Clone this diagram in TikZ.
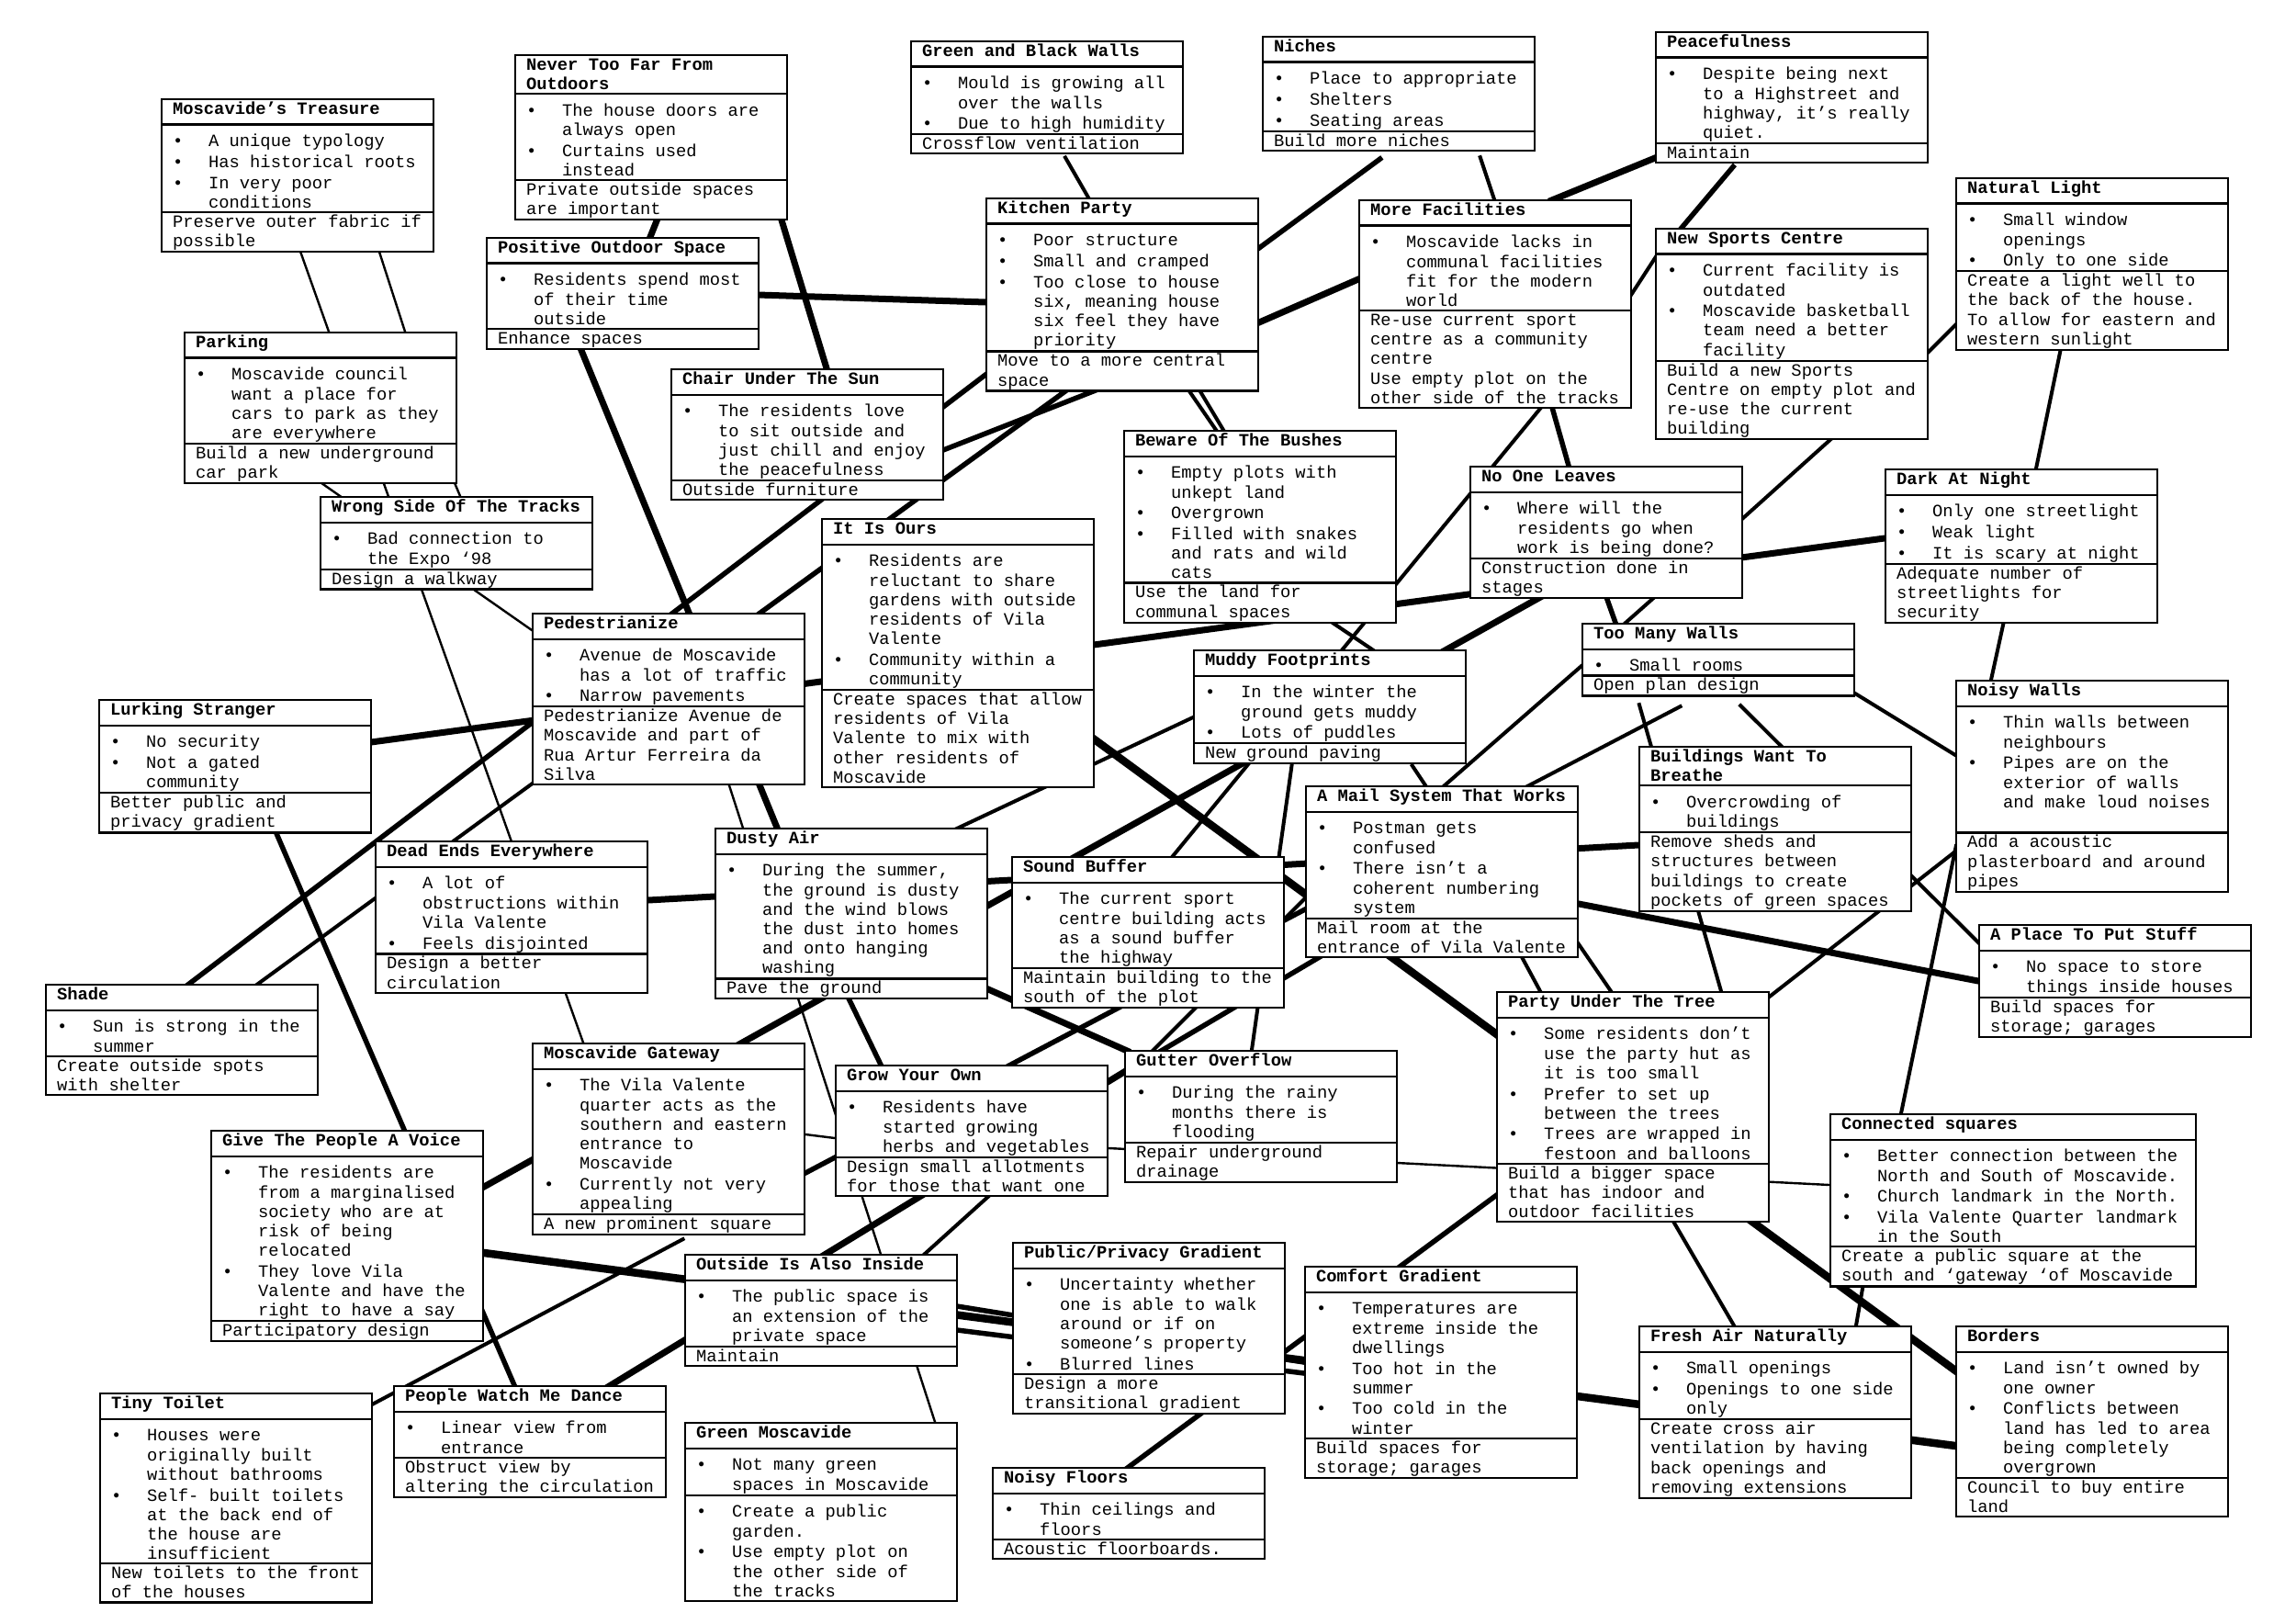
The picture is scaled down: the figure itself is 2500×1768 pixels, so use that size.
\documentclass[tikz,border=0pt]{standalone}
\usepackage{fontspec}
\setmainfont{Liberation Mono}
\usetikzlibrary{shapes.multipart, backgrounds}

\hyphenpenalty=10000
\exhyphenpenalty=10000

% conteudo das caixas (espacos fixos de letra monoespacada, margem direita livre)
\newcommand{\espacos}{\spaceskip=0.6em\relax\xspaceskip=0.6em\relax\rightskip=0pt plus 1fil\relax}
\newcommand{\apoio}{\rule[-3pt]{0pt}{17.8pt}}
\newcommand{\titulo}[2][9.5pt]{\espacos\textbf{\apoio #2}\rule[-#1]{0pt}{1pt}}
\newcommand{\topico}[1]{\par\espacos\setlength{\parskip}{1.5pt}\noindent\hangindent=39pt\hangafter=1\makebox[39pt][l]{\textbullet}\apoio#1\apoio\par}
\newcommand{\solucao}[1]{\espacos\apoio#1\apoio}

\begin{document}
\begin{tikzpicture}[x=1pt, y=-1pt,
    caixa/.style={
        rectangle split, rectangle split parts=3, draw, line width=2.2pt,
        fill=white, anchor=north west, text width=272pt,
        inner xsep=12pt, inner ysep=0.5pt, align=left,
        font={\fontsize{18.8}{21.2}\selectfont}
    },
    linha/.style={line width=#1, shorten <=-6pt, shorten >=-6pt},
    fina/.style={linha=2.4pt},
    media/.style={linha=4pt},
    grossa/.style={linha=5.5pt},
    forte/.style={linha=7pt},
    extra/.style={linha=8.5pt}
]
    \useasboundingbox (0,0) rectangle (2500,1768);

    % --- Fila de cima ---
    \node[caixa] (treasure) at (175,107) {\titulo{Moscavide’s Treasure}
        \nodepart{two}\topico{A unique typology}\topico{Has historical roots}\topico{In very poor conditions}
        \nodepart{three}\solucao{Preserve outer fabric if possible}};
    \node[caixa] (never_far) at (560,59) {\titulo[3pt]{Never Too Far From Outdoors}
        \nodepart{two}\topico{The house doors are always open}\topico{Curtains used instead}
        \nodepart{three}\solucao{Private outside spaces are important}};
    \node[caixa] (green_walls) at (991,44) {\titulo{Green and Black Walls}
        \nodepart{two}\topico{Mould is growing all over the walls}\topico{Due to high humidity}
        \nodepart{three}\solucao{Crossflow ventilation}};
    \node[caixa] (niches) at (1374,39) {\titulo{Niches}
        \nodepart{two}\topico{Place to appropriate}\topico{Shelters}\topico{Seating areas}
        \nodepart{three}\solucao{Build more niches}};
    \node[caixa] (peace) at (1802,34) {\titulo{Peacefulness}
        \nodepart{two}\topico{Despite being next to a Highstreet and highway, it’s really quiet.}
        \nodepart{three}\solucao{Maintain}};
    \node[caixa] (nat_light) at (2129,193) {\titulo{Natural Light}
        \nodepart{two}\topico{Small window openings}\topico{Only to one side}
        \nodepart{three}\solucao{Create a light well to the back of the house. To allow for eastern and western sunlight}};

    % --- Segunda fila ---
    \node[caixa] (outdoor) at (529,258) {\titulo{Positive Outdoor Space}
        \nodepart{two}\topico{Residents spend most of their time outside}
        \nodepart{three}\solucao{Enhance spaces}};
    \node[caixa] (kitchen) at (1073,215) {\titulo{Kitchen Party}
        \nodepart{two}\topico{Poor structure}\topico{Small and cramped}\topico{Too close to house six, meaning house six feel they have priority}
        \nodepart{three}\solucao{Move to a more central space}};
    \node[caixa] (facilities) at (1479,217) {\titulo{More Facilities}
        \nodepart{two}\topico{Moscavide lacks in communal facilities fit for the modern world}
        \nodepart{three}\solucao{Re-use current sport centre as a community centre}\par\solucao{Use empty plot on the other side of the tracks}};
    \node[caixa] (sports) at (1802,248) {\titulo{New Sports Centre}
        \nodepart{two}\topico{Current facility is outdated}\topico{Moscavide basketball team need a better facility}
        \nodepart{three}\solucao{Build a new Sports\newline Centre on empty plot and\newline re-use the current\newline building}};
    \node[caixa] (parking) at (200,361) {\titulo{Parking}
        \nodepart{two}\topico{Moscavide council want a place for cars to park as they are everywhere}
        \nodepart{three}\solucao{Build a new underground car park}};
    \node[caixa] (chair) at (730,401) {\titulo{Chair Under The Sun}
        \nodepart{two}\topico{The residents love to sit outside and just chill and enjoy the peacefulness}
        \nodepart{three}\solucao{Outside furniture}};
    \node[caixa] (bushes) at (1223,468) {\titulo{Beware Of The Bushes}
        \nodepart{two}\topico{Empty plots with unkept land}\topico{Overgrown}\topico{Filled with snakes and rats and wild cats}
        \nodepart{three}\solucao{Use the land for communal spaces}};
    \node[caixa] (no_leave) at (1600,507) {\titulo{No One Leaves}
        \nodepart{two}\topico{Where will the residents go when work is being done?}
        \nodepart{three}\solucao{Construction done in stages}};
    \node[caixa] (dark) at (2052,510) {\titulo{Dark At Night}
        \nodepart{two}\topico{Only one streetlight}\topico{Weak light}\topico{It is scary at night}
        \nodepart{three}\solucao{Adequate number of streetlights for security}};

    % --- Meio ---
    \node[caixa] (tracks) at (348,540) {\titulo{Wrong Side Of The Tracks}
        \nodepart{two}\topico{Bad connection to the Expo ‘98}
        \nodepart{three}\solucao{Design a walkway}};
    \node[caixa] (ours) at (894,564) {\titulo{It Is Ours}
        \nodepart{two}\topico{Residents are reluctant to share gardens with outside residents of Vila Valente}\topico{Community within a community}
        \nodepart{three}\solucao{Create spaces that allow\newline residents of Vila\newline Valente to mix with\newline other residents of\newline Moscavide}};
    \node[caixa] (pedes) at (579,667) {\titulo{Pedestrianize}
        \nodepart{two}\topico{Avenue de Moscavide has a lot of traffic}\topico{Narrow pavements}
        \nodepart{three}\solucao{Pedestrianize Avenue de Moscavide and part of Rua Artur Ferreira da Silva}};
    \node[caixa] (muddy) at (1299,707) {\titulo{Muddy Footprints}
        \nodepart{two}\topico{In the winter the ground gets muddy}\topico{Lots of puddles}
        \nodepart{three}\solucao{New ground paving}};
    \node[caixa] (many_walls) at (1722,678) {\titulo{Too Many Walls}
        \nodepart{two}\topico{Small rooms}
        \nodepart{three}\solucao{Open plan design}};
    \node[caixa] (noisy_walls) at (2129,740) {\titulo{Noisy Walls}
        \nodepart{two}\topico{Thin walls between neighbours}\topico{Pipes are on the exterior of walls and make loud noises}\apoio
        \nodepart{three}\solucao{Add a acoustic plasterboard and around pipes}};
    \node[caixa] (lurking) at (107,761) {\titulo{Lurking Stranger}
        \nodepart{two}\topico{No security}\topico{Not a gated community}
        \nodepart{three}\solucao{Better public and privacy gradient}};
    \node[caixa] (breathe) at (1784,812) {\titulo[3pt]{Buildings Want To Breathe}
        \nodepart{two}\topico{Overcrowding of buildings}
        \nodepart{three}\solucao{Remove sheds and structures between buildings to create pockets of green spaces}};
    \node[caixa] (mail) at (1421,855) {\titulo{A Mail System That Works}
        \nodepart{two}\topico{Postman gets confused}\topico{There isn’t a coherent numbering system}
        \nodepart{three}\solucao{Mail room at the entrance of Vila Valente}};
    \node[caixa] (dusty) at (778,901) {\titulo{Dusty Air}
        \nodepart{two}\topico{During the summer, the ground is dusty and the wind blows the dust into homes and onto hanging washing}
        \nodepart{three}\solucao{Pave the ground}};
    \node[caixa] (dead_ends) at (408,915) {\titulo{Dead Ends Everywhere}
        \nodepart{two}\topico{A lot of obstructions within Vila Valente}\topico{Feels disjointed}
        \nodepart{three}\solucao{Design a better circulation}};
    \node[caixa] (sound) at (1101,932) {\titulo{Sound Buffer}
        \nodepart{two}\topico{The current sport centre building acts as a sound buffer the highway}
        \nodepart{three}\solucao{Maintain building to the south of the plot}};
    \node[caixa] (shade) at (49,1071) {\titulo{Shade}
        \nodepart{two}\topico{Sun is strong in the summer}
        \nodepart{three}\solucao{Create outside spots with shelter}};
    \node[caixa] (stuff) at (2154,1006) {\titulo{A Place To Put Stuff}
        \nodepart{two}\topico{No space to store things inside houses}
        \nodepart{three}\solucao{Build spaces for storage; garages}};
    \node[caixa] (party) at (1629,1079) {\titulo{Party Under The Tree}
        \nodepart{two}\topico{Some residents don’t use the party hut as it is too small}\topico{Prefer to set up between the trees}\topico{Trees are wrapped in festoon and balloons}
        \nodepart{three}\solucao{Build a bigger space that has indoor and outdoor facilities}};

    % --- Fila de baixo ---
    \node[caixa] (gateway) at (579,1135) {\titulo{Moscavide Gateway}
        \nodepart{two}\topico{The Vila Valente quarter acts as the southern and eastern entrance to Moscavide}\topico{Currently not very appealing}
        \nodepart{three}\solucao{A new prominent square}};
    \node[caixa] (grow) at (909,1159) {\titulo{Grow Your Own}
        \nodepart{two}\topico{Residents have started growing herbs and vegetables}
        \nodepart{three}\solucao{Design small allotments for those that want one}};
    \node[caixa] (gutter) at (1224,1143) {\titulo{Gutter Overflow}
        \nodepart{two}\topico{During the rainy months there is flooding}
        \nodepart{three}\solucao{Repair underground drainage}};
    \node[caixa] (voice) at (229,1230) {\titulo{Give The People A Voice}
        \nodepart{two}\topico{The residents are from a marginalised society who are at risk of being relocated}\topico{They love Vila Valente and have the right to have a say}
        \nodepart{three}\solucao{Participatory design}};
    \node[caixa, text width=374pt] (squares) at (1992,1212) {\titulo{Connected squares}
        \nodepart{two}\topico{Better connection between the North and South of Moscavide.}\topico{Church landmark in the North.}\topico{Vila Valente Quarter landmark in the South}
        \nodepart{three}\solucao{Create a public square at the south and ‘gateway ‘of Moscavide}};
    \node[caixa] (outside) at (745,1365) {\titulo{Outside Is Also Inside}
        \nodepart{two}\topico{The public space is an extension of the private space}
        \nodepart{three}\solucao{Maintain}};
    \node[caixa] (gradient) at (1102,1352) {\titulo{Public/Privacy Gradient}
        \nodepart{two}\topico{Uncertainty whether one is able to walk around or if on someone’s property}\topico{Blurred lines}
        \nodepart{three}\solucao{Design a more transitional gradient}};
    \node[caixa] (comfort) at (1420,1378) {\titulo{Comfort Gradient}
        \nodepart{two}\topico{Temperatures are extreme inside the dwellings}\topico{Too hot in the summer}\topico{Too cold in the winter}
        \nodepart{three}\solucao{Build spaces for storage; garages}};
    \node[caixa] (fresh_air) at (1784,1443) {\titulo{Fresh Air Naturally}
        \nodepart{two}\topico{Small openings}\topico{Openings to one side only}
        \nodepart{three}\solucao{Create cross air ventilation by having back openings and removing extensions}};
    \node[caixa] (borders) at (2129,1443) {\titulo{Borders}
        \nodepart{two}\topico{Land isn’t owned by one owner}\topico{Conflicts between land has led to area being completely overgrown}
        \nodepart{three}\solucao{Council to buy entire land}};
    \node[caixa] (toilet) at (108,1516) {\titulo{Tiny Toilet}
        \nodepart{two}\topico{Houses were originally built without bathrooms}\topico{Self- built toilets at the back end of the house are insufficient}
        \nodepart{three}\solucao{New toilets to the front of the houses}};
    \node[caixa] (dance) at (428,1508) {\titulo{People Watch Me Dance}
        \nodepart{two}\topico{Linear view from entrance}
        \nodepart{three}\solucao{Obstruct view by altering the circulation}};
    \node[caixa] (green_mos) at (745,1548) {\titulo{Green Moscavide}
        \nodepart{two}\topico{Not many green spaces in Moscavide}
        \nodepart{three}\topico{Create a public garden.}\topico{Use empty plot on the other side of the tracks}};
    \node[caixa] (floors) at (1080,1597) {\titulo{Noisy Floors}
        \nodepart{two}\topico{Thin ceilings and floors}
        \nodepart{three}\solucao{Acoustic floorboards.}};

    % --- Ligacoes (por baixo das caixas) ---
    \begin{scope}[on background layer]
        \fill[white] (0,0) rectangle (2500,1768);
        \draw[fina] ([shift={(150,161)}]treasure.north west) -- ([shift={(158,0)}]parking.north west);
        \draw[fina] ([shift={(236,161)}]treasure.north west) -- ([shift={(241,0)}]parking.north west);
        \draw[fina] ([shift={(143,160)}]parking.north west) -- ([shift={(0,19)}]pedes.north west);
        \draw[fina] ([shift={(216,160)}]parking.north west) -- ([shift={(56,0)}]gateway.north west);
        \draw[fina] ([shift={(293,160)}]parking.north west) -- ([shift={(153,0)}]tracks.north west);
        \draw[forte] ([shift={(158,174)}]never_far.north west) -- ([shift={(179,0)}]outdoor.north west);
        \draw[forte] ([shift={(289,174)}]never_far.north west) -- ([shift={(170,0)}]chair.north west);
        \draw[forte] ([shift={(296,63)}]outdoor.north west) -- ([shift={(0,114)}]kitchen.north west);
        \draw[forte] ([shift={(103,121)}]outdoor.north west) -- ([shift={(68,0)}]dusty.north west);
        \draw[media] ([shift={(171,131)}]green_walls.north west) -- ([shift={(112,0)}]kitchen.north west);
        \draw[grossa] ([shift={(126,136)}]niches.north west) -- ([shift={(298,55)}]kitchen.north west);
        \draw[media] ([shift={(239,136)}]niches.north west) -- ([shift={(148,0)}]facilities.north west);
        \draw[forte] ([shift={(298,136)}]kitchen.north west) -- ([shift={(0,87)}]facilities.north west);
        \draw[grossa] ([shift={(0,193)}]kitchen.north west) -- ([shift={(154,0)}]pedes.north west);
        \draw[grossa] ([shift={(91,208)}]kitchen.north west) -- ([shift={(249,0)}]pedes.north west);
        \draw[grossa] ([shift={(125,208)}]kitchen.north west) -- ([shift={(297,89)}]chair.north west);
        \draw[media] ([shift={(220,208)}]kitchen.north west) -- ([shift={(101,0)}]bushes.north west);
        \draw[media] ([shift={(232,208)}]kitchen.north west) -- ([shift={(109,0)}]bushes.north west);
        \draw[media] ([shift={(202,223)}]facilities.north west) -- ([shift={(176,0)}]sound.north west);
        \draw[grossa] ([shift={(210,223)}]facilities.north west) -- ([shift={(108,0)}]no_leave.north west);
        \draw[forte] ([shift={(0,138)}]peace.north west) -- ([shift={(213,0)}]facilities.north west);
        \draw[grossa] ([shift={(83,150)}]peace.north west) -- ([shift={(29,0)}]sports.north west);
        \draw[media] ([shift={(299,101)}]facilities.north west) -- ([shift={(0,33)}]sports.north west);
        \draw[media] ([shift={(298,135)}]sports.north west) -- ([shift={(0,161)}]nat_light.north west);
        \draw[media] ([shift={(115,186)}]nat_light.north west) -- ([shift={(165,0)}]dark.north west);
        \draw[media] ([shift={(195,227)}]sports.north west) -- ([shift={(298,57)}]no_leave.north west);
        \draw[forte] ([shift={(297,47)}]lurking.north west) -- ([shift={(0,76)}]dark.north west);
        \draw[forte] ([shift={(81,141)}]no_leave.north west) -- ([shift={(298,62)}]voice.north west);
        \draw[grossa] ([shift={(148,140)}]no_leave.north west) -- ([shift={(37,0)}]many_walls.north west);
        \draw[media] ([shift={(205,140)}]no_leave.north west) -- ([shift={(48,0)}]many_walls.north west);
        \draw[media] ([shift={(130,166)}]dark.north west) -- ([shift={(39,0)}]noisy_walls.north west);
        \draw[media] ([shift={(298,77)}]many_walls.north west) -- ([shift={(0,82)}]noisy_walls.north west);
        \draw[media] ([shift={(0,47)}]many_walls.north west) -- ([shift={(152,0)}]mail.north west);
        \draw[media] ([shift={(64,93)}]many_walls.north west) -- ([shift={(245,0)}]party.north west);
        \draw[media] ([shift={(176,93)}]many_walls.north west) -- ([shift={(0,20)}]stuff.north west);
        \draw[media] ([shift={(104,93)}]many_walls.north west) -- ([shift={(244,0)}]mail.north west);
        \draw[media] ([shift={(0,187)}]noisy_walls.north west) -- ([shift={(299,5)}]party.north west);
        \draw[media] ([shift={(0,185)}]noisy_walls.north west) -- ([shift={(78,0)}]squares.north west);
        \draw[forte] ([shift={(298,129)}]mail.north west) -- ([shift={(0,62)}]stuff.north west);
        \draw[media] ([shift={(235,185)}]mail.north west) -- ([shift={(48,0)}]party.north west);
        \draw[media] ([shift={(298,173)}]mail.north west) -- ([shift={(125,0)}]party.north west);
        \draw[extra] ([shift={(299,242)}]ours.north west) -- ([shift={(0,49)}]borders.north west);
        \draw[forte] ([shift={(298,65)}]dead_ends.north west) -- ([shift={(0,108)}]breathe.north west);
        \draw[media] ([shift={(107,130)}]muddy.north west) -- ([shift={(139,0)}]gutter.north west);
        \draw[media] ([shift={(225,208)}]bushes.north west) -- ([shift={(195,0)}]muddy.north west);
        \draw[media] ([shift={(241,130)}]muddy.north west) -- ([shift={(131,0)}]mail.north west);
        \draw[media] ([shift={(266,0)}]dusty.north west) -- ([shift={(0,74)}]muddy.north west);
        \draw[grossa] ([shift={(148,190)}]dusty.north west) -- ([shift={(50,0)}]grow.north west);
        \draw[forte] ([shift={(298,176)}]dusty.north west) -- ([shift={(1,0)}]gutter.north west);
        \draw[grossa] ([shift={(0,135)}]mail.north west) -- ([shift={(298,142)}]gateway.north west);
        \draw[grossa] ([shift={(19,185)}]mail.north west) -- ([shift={(42,0)}]gutter.north west);
        \draw[media] ([shift={(0,123)}]mail.north west) -- ([shift={(32,0)}]gutter.north west);
        \draw[fina] ([shift={(298,91)}]grow.north west) -- ([shift={(0,78)}]squares.north west);
        \draw[forte] ([shift={(0,24)}]gutter.north west) -- ([shift={(237,0)}]dance.north west);
        \draw[media] ([shift={(170,141)}]grow.north west) -- ([shift={(262,0)}]outside.north west);
        \draw[fina] ([shift={(214,185)}]pedes.north west) -- ([shift={(273,0)}]green_mos.north west);
        \draw[fina] ([shift={(298,100)}]gateway.north west) -- ([shift={(0,80)}]grow.north west);
        \draw[grossa] ([shift={(157,0)}]shade.north west) -- ([shift={(0,120)}]pedes.north west);
        \draw[media] ([shift={(232,0)}]shade.north west) -- ([shift={(2,185)}]pedes.north west);
        \draw[grossa] ([shift={(193,144)}]lurking.north west) -- ([shift={(132,0)}]dance.north west);
        \draw[media] ([shift={(161,216)}]gateway.north west) -- ([shift={(299,12)}]toilet.north west);
        \draw[extra] ([shift={(298,134)}]voice.north west) -- ([shift={(0,131)}]borders.north west);
        \draw[grossa] ([shift={(297,57)}]outside.north west) -- ([shift={(0,105)}]comfort.north west);
        \draw[grossa] ([shift={(297,83)}]outside.north west) -- ([shift={(0,117)}]comfort.north west);
        \draw[grossa] ([shift={(149,0)}]floors.north west) -- ([shift={(2,221)}]party.north west);
        \draw[media] ([shift={(192,249)}]party.north west) -- ([shift={(104,0)}]fresh_air.north west);
        \draw[media] ([shift={(37,185)}]squares.north west) -- ([shift={(237,0)}]fresh_air.north west);
    \end{scope}
\end{tikzpicture}
\end{document}
